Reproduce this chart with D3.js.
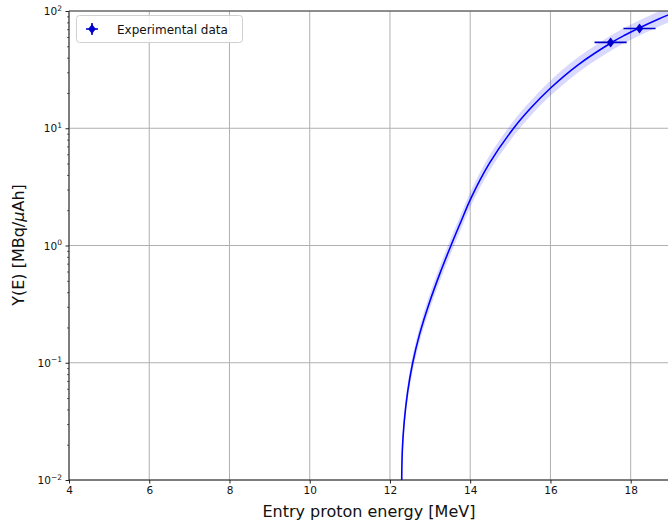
<!DOCTYPE html>
<html>
<head>
<meta charset="utf-8">
<script src="https://cdn.jsdelivr.net/npm/d3@7"></script>
<style>
  html, body { margin: 0; padding: 0; background: #fff; }
  svg { display: block; font-family: "DejaVu Sans", sans-serif; }
</style>
</head>
<body>
<svg id="chart" width="668" height="524"></svg>
<script>
// ---- data ----
const fitEnergy = [12.293, 12.308, 12.356, 12.440, 12.567, 12.744, 12.970, 13.232, 13.521, 13.768, 14.020, 14.481, 15.082, 15.510, 16.004, 16.682, 17.547, 17.861, 18.210, 18.698, 19.232];
const fitYield  = [0.01, 0.0178, 0.0316, 0.0562, 0.1, 0.178, 0.316, 0.562, 1.0, 1.595, 2.54, 5.04, 10, 14.86, 22.04, 34.6, 54.4, 62.4, 71.6, 85.5, 102];
const bandUpper = [0.0116, 0.0206, 0.0367, 0.0652, 0.116, 0.206, 0.367, 0.652, 1.16, 1.85, 2.95, 5.85, 11.6, 17.2, 25.6, 40.1, 63.1, 72.4, 83.1, 99.2, 118.3];
const bandLower = [0.0086, 0.0153, 0.0272, 0.0483, 0.086, 0.153, 0.272, 0.483, 0.86, 1.37, 2.18, 4.33, 8.6, 12.8, 19.0, 29.8, 46.8, 53.7, 61.6, 73.5, 87.7];

const expEnergy = [17.5, 18.22];
const expEnergyErr = [0.4, 0.4];
const expYield = [54, 71];
const expYieldErr = [4, 5];

const xTicks = [4, 6, 8, 10, 12, 14, 16, 18];
const yTickExponents = [-2, -1, 0, 1, 2];

const legendLabel = "Experimental data";
const xLabel = "Entry proton energy [MeV]";

// ---- layout ----
(function () {
const svg = d3.select("#chart");
const mLeft = 69, mTop = 11, mBottom = 480;
const x = d3.scaleLinear().domain([4, 19]).range([mLeft, mLeft + 15 * 40.12]);
const y = d3.scaleLog().domain([0.01, 100]).range([mBottom, mTop]);
const mRight = x(19);

const defs = svg.append("defs");
defs.append("clipPath").attr("id", "clip")
  .append("rect").attr("x", mLeft).attr("y", mTop).attr("width", mRight - mLeft).attr("height", mBottom - mTop);

// grid
const grid = svg.append("g");
grid.selectAll("line.vx").data(xTicks).join("line")
  .attr("x1", d => x(d)).attr("x2", d => x(d)).attr("y1", mTop).attr("y2", mBottom)
  .attr("stroke", "#b0b0b0").attr("stroke-width", 1);
grid.selectAll("line.hy").data(yTickExponents).join("line")
  .attr("x1", mLeft).attr("x2", mRight).attr("y1", d => y(Math.pow(10, d))).attr("y2", d => y(Math.pow(10, d)))
  .attr("stroke", "#b0b0b0").attr("stroke-width", 1);

// band
const fitData = fitEnergy.map((e, i) => ({e, v: fitYield[i], hi: bandUpper[i], lo: bandLower[i]}));
const plot = svg.append("g").attr("clip-path", "url(#clip)");
const smooth = d3.curveCatmullRom.alpha(0.5);
plot.append("path").datum(fitData)
  .attr("d", d3.area().x(d => x(d.e)).y0(d => y(d.lo)).y1(d => y(d.hi)).curve(smooth))
  .attr("fill", "rgba(0,0,255,0.15)").attr("stroke", "none");
plot.append("path").datum(fitData)
  .attr("d", d3.line().x(d => x(d.e)).y(d => y(d.v)).curve(smooth))
  .attr("fill", "none").attr("stroke", "#0000ff").attr("stroke-width", 1.6);

// experimental points
const ptColor = "#0000cc";
const pts = expEnergy.map((e, i) => ({e, ex: expEnergyErr[i], v: expYield[i], ev: expYieldErr[i]}));
const pg = plot.append("g");
pg.selectAll("line.h").data(pts).join("line")
  .attr("x1", d => x(d.e - d.ex)).attr("x2", d => x(d.e + d.ex))
  .attr("y1", d => y(d.v)).attr("y2", d => y(d.v))
  .attr("stroke", ptColor).attr("stroke-width", 1.6);
pg.selectAll("line.v").data(pts).join("line")
  .attr("x1", d => x(d.e)).attr("x2", d => x(d.e))
  .attr("y1", d => y(d.v - d.ev)).attr("y2", d => y(d.v + d.ev))
  .attr("stroke", ptColor).attr("stroke-width", 1.6);
const diamond = "M0,-5L3.8,0L0,5L-3.8,0Z";
pg.selectAll("path.m").data(pts).join("path")
  .attr("d", diamond)
  .attr("transform", d => `translate(${x(d.e)},${y(d.v)})`)
  .attr("fill", ptColor);

// spines
svg.append("line").attr("x1", mLeft).attr("x2", mLeft).attr("y1", mTop).attr("y2", mBottom).attr("stroke", "#222").attr("stroke-width", 1);
svg.append("line").attr("x1", mLeft).attr("x2", mRight).attr("y1", mBottom).attr("y2", mBottom).attr("stroke", "#222").attr("stroke-width", 1);
svg.append("line").attr("x1", mLeft).attr("x2", mRight).attr("y1", mTop).attr("y2", mTop).attr("stroke", "#444").attr("stroke-width", 1);

// x axis
const xAxis = d3.axisBottom(x).tickValues(xTicks).tickFormat(d3.format("d")).tickSize(3.5).tickPadding(3);
const gx = svg.append("g").attr("transform", `translate(0,${mBottom})`).call(xAxis);
gx.select(".domain").remove();
gx.selectAll("text").attr("font-size", 10.5).attr("fill", "#111").attr("font-family", "DejaVu Sans");
gx.selectAll("line").attr("stroke", "#222");

// y axis (log)
const yMajor = yTickExponents.map(e => Math.pow(10, e));
const yAxis = d3.axisLeft(y).tickValues(yMajor).tickFormat(() => "").tickSize(3.5);
const gy = svg.append("g").attr("transform", `translate(${mLeft},0)`).call(yAxis);
gy.select(".domain").remove();
gy.selectAll("line").attr("stroke", "#222");
const yMinor = [];
for (let e = -2; e < 2; e++) for (let m = 2; m <= 9; m++) yMinor.push(m * Math.pow(10, e));
const yAxisMinor = d3.axisLeft(y).tickValues(yMinor).tickFormat(() => "").tickSize(2);
const gym = svg.append("g").attr("transform", `translate(${mLeft},0)`).call(yAxisMinor);
gym.select(".domain").remove();
gym.selectAll("line").attr("stroke", "#222").attr("stroke-width", 0.7);

const yLabels = svg.append("g");
yTickExponents.forEach(ex => {
  const t = yLabels.append("text")
    .attr("x", mLeft - 7).attr("y", y(Math.pow(10, ex)) + 4)
    .attr("text-anchor", "end").attr("font-size", 10.5).attr("fill", "#111");
  t.append("tspan").text("10");
  t.append("tspan").attr("dy", -4.5).attr("font-size", 7.5).text(ex < 0 ? "\u2212" + Math.abs(ex) : String(ex));
});

// axis titles
svg.append("text").attr("x", (mLeft + mRight) / 2 - 1).attr("y", 517)
  .attr("text-anchor", "middle").attr("font-size", 16).attr("fill", "#111").text(xLabel);
const yl = svg.append("text").attr("transform", `translate(24,245) rotate(-90)`)
  .attr("text-anchor", "middle").attr("font-size", 16).attr("fill", "#111");
yl.append("tspan").text("Y(E) [MBq/");
yl.append("tspan").attr("font-style", "italic").text("\u03bc");
yl.append("tspan").text("Ah]");

// legend
const lg = svg.append("g");
lg.append("rect").attr("x", 76.5).attr("y", 15.5).attr("width", 166).attr("height", 27).attr("rx", 3)
  .attr("fill", "rgba(255,255,255,0.85)").attr("stroke", "#d0d0d0").attr("stroke-width", 1);
const lx = 92, ly = 29;
lg.append("line").attr("x1", lx - 6).attr("x2", lx + 6).attr("y1", ly).attr("y2", ly).attr("stroke", ptColor).attr("stroke-width", 1.6);
lg.append("line").attr("x1", lx).attr("x2", lx).attr("y1", ly - 6).attr("y2", ly + 6).attr("stroke", ptColor).attr("stroke-width", 1.6);
lg.append("path").attr("d", diamond).attr("transform", `translate(${lx},${ly})`).attr("fill", ptColor);
lg.append("text").attr("x", 117).attr("y", 33.5).attr("font-size", 12).attr("fill", "#111").text(legendLabel);
})();
</script>
</body>
</html>
